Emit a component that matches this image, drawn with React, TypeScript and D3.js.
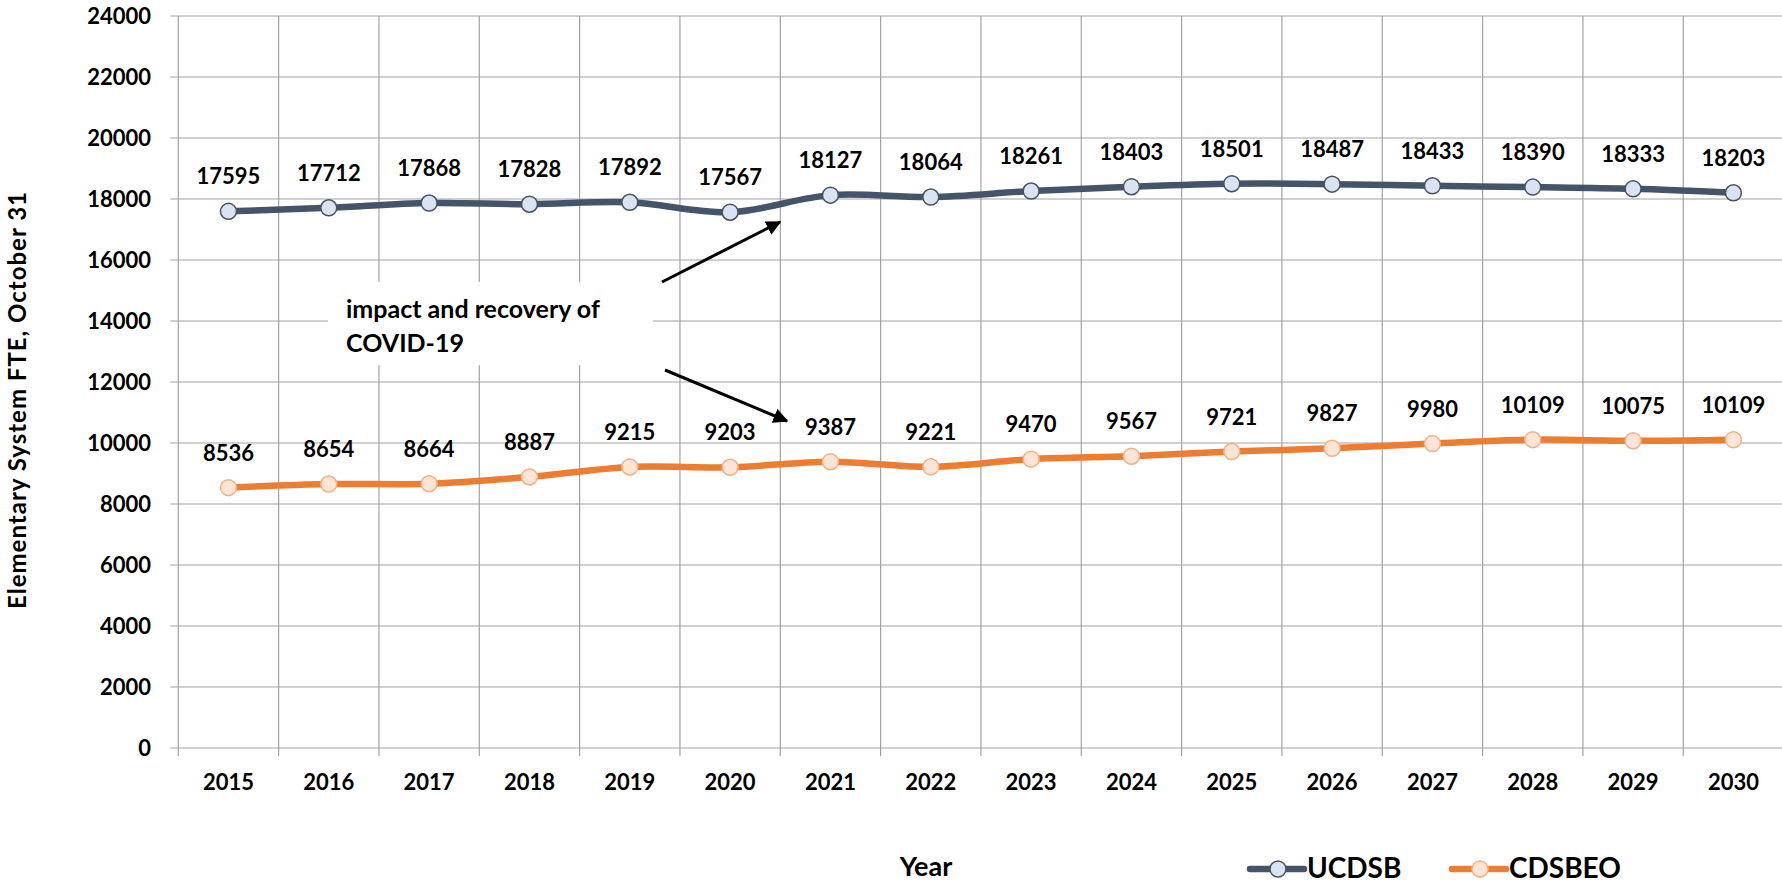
import React from 'react';
import * as d3 from 'd3';

const years = ['2015', '2016', '2017', '2018', '2019', '2020', '2021', '2022', '2023', '2024', '2025', '2026', '2027', '2028', '2029', '2030'];
const ucdsb = [17595, 17712, 17868, 17828, 17892, 17567, 18127, 18064, 18261, 18403, 18501, 18487, 18433, 18390, 18333, 18203];
const cdsbeo = [8536, 8654, 8664, 8887, 9215, 9203, 9387, 9221, 9470, 9567, 9721, 9827, 9980, 10109, 10075, 10109];
const yMax = 24000;
const yStep = 2000;

const W = 1782;
const H = 885;
const plot = { left: 178.3, top: 16, bottom: 748, band: 100.33 };
const font = 'Lato, "Open Sans", sans-serif';

const series = [
  { name: 'UCDSB', values: ucdsb, line: '#44546A', fill: '#DAE3F3', edge: '#4a5260' },
  { name: 'CDSBEO', values: cdsbeo, line: '#ED7D31', fill: '#FBE5D6', edge: '#F4B183' },
];

export default function App() {
  const x = d3
    .scaleBand<string>()
    .domain(years)
    .range([plot.left, plot.left + plot.band * years.length]);
  const y = d3.scaleLinear().domain([0, yMax]).range([plot.bottom, plot.top]);
  const cx = (i: number) => (x(years[i]) ?? 0) + x.bandwidth() / 2;
  const yTicks = d3.range(0, yMax + 1, yStep);
  const line = d3
    .line<number>()
    .x((_, i) => cx(i))
    .y((d) => y(d))
    .curve(d3.curveCardinal.tension(0));
  const right = plot.left + plot.band * years.length;

  return (
    <svg
      width={W}
      height={H}
      style={{ position: 'absolute', left: 0, top: 0, background: '#fff' }}
      fontFamily={font}
      fontWeight={700}
    >
      <defs>
        <marker id="arrow" viewBox="0 0 10 10" refX="9" refY="5" markerWidth="5" markerHeight="5" orient="auto">
          <path d="M0,0 L10,5 L0,10 z" fill="#000" />
        </marker>
      </defs>
      <rect width={W} height={H} fill="#fff" />

      {/* grid */}
      {yTicks.map((t) => (
        <line key={`gy${t}`} x1={plot.left - 8} x2={right} y1={y(t)} y2={y(t)} stroke="#a3a3a3" strokeWidth={1.2} />
      ))}
      {d3.range(years.length + 1).map((i) => {
        const gx = plot.left + i * plot.band;
        return <line key={`gx${i}`} x1={gx} x2={gx} y1={plot.top} y2={plot.bottom + 8} stroke="#a3a3a3" strokeWidth={1.2} />;
      })}

      {/* y labels */}
      {yTicks.map((t) => (
        <text key={`yl${t}`} x={151} y={y(t) + 8} textAnchor="end" fontSize={22} fill="#000">
          {t}
        </text>
      ))}
      {/* x labels */}
      {years.map((yr, i) => (
        <text key={`xl${yr}`} x={cx(i)} y={790} textAnchor="middle" fontSize={22} fill="#000">
          {yr}
        </text>
      ))}

      <text transform="translate(26,400) rotate(-90)" textAnchor="middle" fontSize={24} letterSpacing={1} fill="#000">
        Elementary System FTE, October 31
      </text>
      <text x={926} y={876} textAnchor="middle" fontSize={27} fill="#000">
        Year
      </text>

      {/* annotation */}
      <rect x={328} y={282} width={325} height={83} fill="#fff" />
      <text x={346} y={318} fontSize={25} fill="#000">impact and recovery of</text>
      <text x={346} y={352} fontSize={25} fill="#000">COVID-19</text>
      <line x1={662} y1={282} x2={780} y2={222} stroke="#000" strokeWidth={3} markerEnd="url(#arrow)" />
      <line x1={665} y1={370} x2={787} y2={421} stroke="#000" strokeWidth={3} markerEnd="url(#arrow)" />

      {/* series */}
      {series.map((s) => (
        <g key={s.name}>
          <path d={line(s.values) ?? ''} fill="none" stroke={s.line} strokeWidth={6.5} strokeLinecap="round" />
          {s.values.map((v, i) => (
            <circle key={i} cx={cx(i)} cy={y(v)} r={8} fill={s.fill} stroke={s.edge} strokeWidth={1.5} />
          ))}
          {s.values.map((v, i) => (
            <text key={`t${i}`} x={cx(i)} y={y(v) - 27} textAnchor="middle" fontSize={22} fill="#000">
              {v}
            </text>
          ))}
        </g>
      ))}

      {/* legend */}
      {series.map((s, k) => {
        const lx = k === 0 ? 1250 : 1452;
        return (
          <g key={`lg${s.name}`}>
            <line x1={lx} x2={lx + 54} y1={869} y2={869} stroke={s.line} strokeWidth={6.5} strokeLinecap="round" />
            <circle cx={lx + 28} cy={869} r={8} fill={s.fill} stroke={s.edge} strokeWidth={1.5} />
            <text x={lx + 57} y={878} fontSize={28} fill="#000">
              {s.name}
            </text>
          </g>
        );
      })}
    </svg>
  );
}
